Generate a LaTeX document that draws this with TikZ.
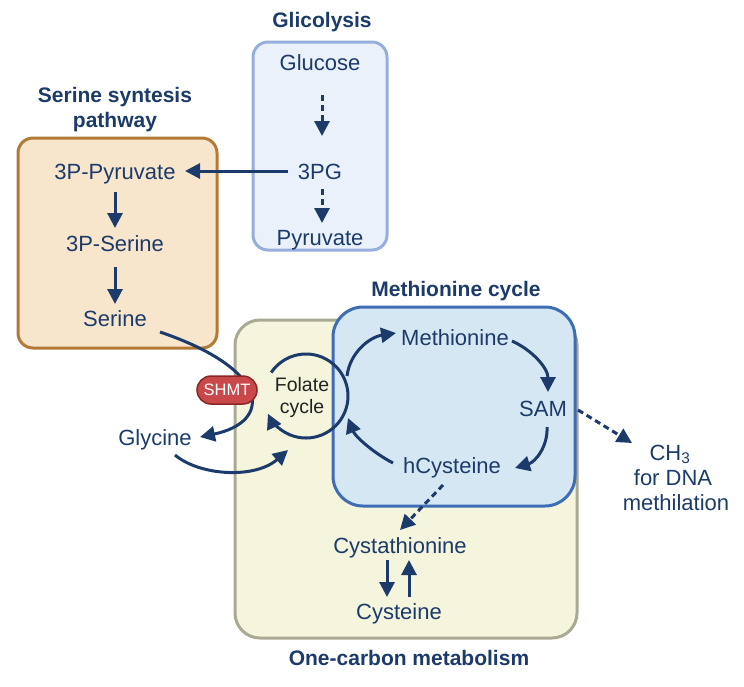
\documentclass[tikz,border=0pt]{standalone}
\usepackage{fontspec}
\setmainfont{Liberation Sans}
\usetikzlibrary{arrows.meta,calc}
\definecolor{navy}{HTML}{1C3B6B}
\definecolor{folk}{HTML}{222222}
\definecolor{glyF}{HTML}{EAF1FB}
\definecolor{glyD}{HTML}{95AEDB}
\definecolor{serF}{HTML}{F7E5CC}
\definecolor{serD}{HTML}{B37A36}
\definecolor{oneF}{HTML}{F5F4DC}
\definecolor{oneD}{HTML}{AAA994}
\definecolor{metF}{HTML}{D5E7F2}
\definecolor{metD}{HTML}{3D6DB5}
\definecolor{shF}{HTML}{C9484A}
\definecolor{shD}{HTML}{8A2628}
\begin{document}
\begin{tikzpicture}[x=1pt,y=-1pt,
  lbl/.style={font=\fontsize{22}{26}\selectfont, text=navy, inner sep=0pt, text height=16pt, text depth=0pt},
  ttl/.style={font=\fontsize{21}{25}\selectfont\bfseries, text=navy, inner sep=0pt, align=center},
  arr/.style={draw=navy, line width=3pt, -{Triangle[length=15pt,width=15pt]}},
  darr/.style={arr, dash pattern=on 6pt off 4pt},
  boxline/.style={line width=3pt},
]
\useasboundingbox (0,0) rectangle (744,686);

% boxes
\draw[boxline, fill=glyF, draw=glyD, rounded corners=15pt] (253,42) rectangle (387,250);
\draw[boxline, fill=serF, draw=serD, rounded corners=15pt] (18,138) rectangle (217,348);
\draw[boxline, fill=oneF, draw=oneD, rounded corners=25pt] (235,320) rectangle (577,638);
\draw[boxline, fill=metF, draw=metD, rounded corners=30pt] (333,307) rectangle (575,506);

% titles
\node[ttl] (tglyc) at (322,22) {Glicolysis};
\node[ttl] (tser) at (115,110) {Serine syntesis\\pathway};
\node[ttl] (tmet) at (456,291) {Methionine cycle};
\node[ttl] (tone) at (409,658) {One-carbon metabolism};

% labels
\node[lbl] (glu) at (320,62) {Glucose};
\node[lbl] (pg) at (320,171) {3PG};
\node[lbl] (pyr) at (320,237) {Pyruvate};
\node[lbl] (ppyr) at (115,171) {3P-Pyruvate};
\node[lbl] (pser) at (115,243) {3P-Serine};
\node[lbl] (ser) at (115,318) {Serine};
\node[lbl] (gly) at (155,437) {Glycine};
\node[lbl] (meth) at (455,337) {Methionine};
\node[lbl] (sam) at (543,408) {SAM};
\node[lbl] (hcys) at (452,465) {hCysteine};
\node[lbl] (cysta) at (400,545) {Cystathionine};
\node[lbl] (cys) at (399,611) {Cysteine};
\node[lbl] (ch3) at (670,452) {CH\textsubscript{3}};
\node[lbl] (fordna) at (673,477) {for DNA};
\node[lbl] (methil) at (676,502) {methilation};
\node[text=folk, align=center, inner sep=0pt, font=\fontsize{19.5}{22}\selectfont] (fol) at (302,397) {Folate\\cycle};
\coordinate (fc) at (306,396);

% glycolysis
\draw[darr] ($(glu)+(2,33)$) -- ($(pg)+(2,-35)$);
\draw[darr] ($(pg)+(2,18)$) -- ($(pyr)+(2,-14)$);
\draw[arr] ($(pg)+(-32,0)$) -- ($(ppyr)+(70,0)$);
% serine pathway
\draw[arr] ($(ppyr)+(0,21)$) -- ($(pser)+(0,-15)$);
\draw[arr] ($(pser)+(0,24)$) -- ($(ser)+(0,-14)$);
% serine -> glycine through SHMT
\draw[arr] ($(ser)+(45,14)$) .. controls (272,370) and (272,422) .. ($(gly)+(45,0)$);
% glycine -> folate
\draw[arr] ($(gly)+(20,18)$) .. controls (200,476) and (255,479) .. ($(fc)+(-18,54)$);
% folate circle
\draw[arr] ($(fc)+(-146:42)$) arc[start angle=-146, end angle=155, radius=42];
% methionine cycle
\draw[arr] ($(fc)+(41,-20)$) .. controls (350,352) and (370,337) .. ($(meth)+(-59,-4)$);
\draw[arr] ($(meth)+(57,4)$) .. controls (532,350) and (548,368) .. ($(sam)+(5,-16)$);
\draw[arr] ($(sam)+(4,19)$) .. controls (548,447) and (535,462) .. ($(hcys)+(63,3)$);
\draw[arr] ($(hcys)+(-59,-2)$) .. controls (372,452) and (355,436) .. ($(fc)+(42,22)$);
% transsulfuration
\draw[darr] ($(hcys)+(-9,20)$) -- ($(cysta)+(0,-15)$);
\draw[arr] ($(cysta)+(-13,15)$) -- ($(cys)+(-12,-14)$);
\draw[arr] ($(cys)+(10,-14)$) -- ($(cysta)+(9,15)$);
% SAM -> CH3
\draw[darr] ($(sam)+(35,2)$) -- ($(ch3)+(-38,-9)$);

% SHMT
\node[fill=shF, draw=shD, line width=1.5pt, rounded corners=14pt, minimum width=60pt, minimum height=28pt, inner sep=0pt, text=white, font=\fontsize{16.5}{18}\selectfont] (shmt) at (227,390) {SHMT};
\end{tikzpicture}
\end{document}
